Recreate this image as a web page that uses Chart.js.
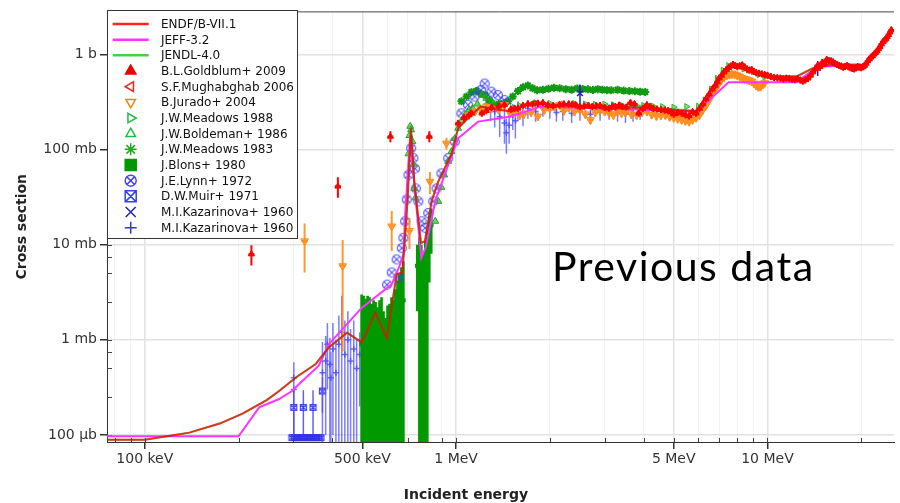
<!DOCTYPE html>
<html>
<head>
<meta charset="utf-8">
<script src="https://cdn.jsdelivr.net/npm/chart.js@4.4.0/dist/chart.umd.min.js"></script>
<style>
  body { margin: 0; background: #fff; }
  #wrap { position: relative; width: 900px; height: 503px; }
  #legendBox { position: absolute; left: 107px; top: 10px; width: 191px; height: 229px; box-sizing: border-box;
    background: #fff; border: 1px solid #333; font: 12px 'DejaVu Sans', sans-serif; color: #111; }
  #legendBox canvas { position: absolute; left: 0; top: 0; }
  .row { position: absolute; left: 53px; height: 16px; line-height: 16px; white-space: nowrap; }
  #xTitle { position: absolute; left: 366px; width: 200px; top: 487px; text-align: center;
    font: bold 14px 'DejaVu Sans', sans-serif; line-height: 14px; color: #222; }
  #note { position: absolute; left: 552px; top: 245px; font: 41px Lato, sans-serif; line-height: 41px;
    letter-spacing: 1.5px; color: #000; white-space: nowrap; }
</style>
</head>
<body>
<div id="wrap">
  <canvas id="chart" width="900" height="503"></canvas>
  <div id="legendBox"><canvas id="legendMarks" width="189" height="227"></canvas></div>
  <div id="xTitle">Incident energy</div>
  <div id="note">Previous data</div>
</div>
<script>
// energies in MeV, cross sections in mb
const endfE = [0.0756, 0.1, 0.139, 0.174, 0.206, 0.247, 0.27, 0.308, 0.354, 0.371, 0.39, 0.446, 0.498, 0.55, 0.599, 0.644, 0.672, 0.699, 0.716, 0.734, 0.771, 0.794, 0.834, 0.876, 0.966, 1.015, 1.12, 1.2, 1.36, 1.5, 1.79, 1.97, 2.84, 4.1, 5.93, 6.53, 7.23, 7.78, 8.57, 10, 12.4, 14, 15.9, 20];
const endfS = [0.089, 0.089, 0.106, 0.132, 0.168, 0.234, 0.29, 0.41, 0.556, 0.68, 0.83, 1.19, 0.94, 1.93, 1.04, 4.87, 5.07, 30.9, 167, 46, 10.4, 10.9, 28.5, 46, 89, 167, 231, 282, 261, 250, 318, 294, 282, 271, 250, 405, 656, 740, 684, 581, 581, 710, 776, 776];
const jendlS = [0.089, 0.089, 0.106, 0.132, 0.168, 0.234, 0.29, 0.41, 0.556, 0.68, 0.83, 1.19, 0.94, 1.93, 1.04, 4.87, 5.07, 30.9, 167, 46, 10.4, 10.9, 28.5, 46, 89, 167, 231, 282, 265, 255, 322, 298, 288, 276, 255, 415, 670, 750, 690, 590, 590, 720, 780, 780];
const jeffE = [0.0756, 0.2, 0.233, 0.27, 0.298, 0.313, 0.362, 0.39, 0.498, 0.621, 0.661, 0.677, 0.686, 0.712, 0.735, 0.773, 0.8, 0.857, 0.943, 1.015, 1.176, 1.5, 1.87, 2.84, 5.93, 7.5, 12.4, 14.5, 20.2];
const jeffS = [0.097, 0.097, 0.195, 0.239, 0.292, 0.344, 0.535, 0.9, 2.18, 3.83, 6.2, 7.9, 20.7, 140, 40, 7.3, 9.5, 28.5, 69, 131, 196, 222, 282, 271, 250, 509, 509, 740, 770];

const goldE = [0.22, 0.417, 0.615, 0.82, 1.015, 1.06, 1.12, 1.21, 1.3, 1.43, 1.5, 1.58, 1.7, 1.83, 1.97, 2.15, 2.3, 2.42, 2.58, 2.74, 2.9, 3.1, 3.25, 3.42, 3.63, 3.86, 4.1, 4.3, 4.55, 4.8, 5.0, 5.3, 5.6, 5.9, 6.2, 6.5, 6.8, 7.0, 7.25, 7.5, 7.75, 8.0, 8.3, 8.6, 8.9, 9.2, 9.6, 10.0, 10.5, 11.0, 11.5, 12.0, 12.5, 13.0, 13.5, 14.0, 14.5, 15.0, 15.5, 16.0, 16.5, 17.0, 17.5, 18.0, 18.5, 19.0, 19.5, 20.0, 20.5, 21.0, 21.5, 22.0, 22.5, 23.0, 23.5, 24.0, 24.5, 25.0];
const goldS = [7.95, 41, 137, 137, 188, 215, 240, 240, 275, 294, 265, 271, 300, 305, 292, 294, 300, 294, 285, 282, 290, 271, 280, 282, 309, 240, 294, 270, 262, 255, 235, 240, 225, 240, 300, 380, 470, 560, 650, 720, 780, 740, 770, 700, 690, 640, 620, 600, 570, 560, 560, 545, 555, 520, 560, 650, 760, 820, 880, 850, 800, 760, 730, 760, 720, 700, 740, 720, 760, 850, 930, 1000, 1080, 1200, 1350, 1450, 1600, 1800];
const goldErr = [1.9, 10, 18, 18, 15, 18, 20, 20, 22, 24, 22, 22, 24, 25, 24, 24, 25, 24, 23, 23, 24, 22, 23, 23, 25, 20, 24, 22, 21, 21, 20, 20, 19, 20, 25, 30, 38, 45, 52, 58, 62, 60, 62, 56, 55, 52, 50, 48, 46, 45, 45, 44, 45, 42, 45, 52, 60, 66, 70, 68, 64, 60, 58, 60, 58, 56, 60, 58, 60, 68, 75, 80, 86, 96, 108, 116, 128, 144];
const goldE2 = [1.1, 1.25, 1.37, 1.54, 1.64, 1.76, 1.9, 2.05, 2.22, 2.36, 2.5, 2.66, 2.82, 3.0, 3.18, 3.34, 3.52, 3.74, 3.98, 4.2, 4.42, 4.68, 4.9, 5.15, 5.45, 5.75, 6.05, 6.35, 6.65, 6.9, 7.12, 7.38, 7.62, 7.88, 8.15, 8.45, 8.75, 9.05, 9.4, 9.8, 10.25, 10.75, 11.25, 11.75, 12.25, 12.75, 13.25, 13.75, 14.25, 14.75, 15.25, 15.75, 16.25, 16.75, 17.25, 17.75, 18.25, 18.75, 19.25, 19.75, 20.25, 20.75, 21.25, 21.75, 22.25, 22.75, 23.25, 23.75, 24.25, 24.75];
const goldS2 = [230, 255, 285, 270, 290, 298, 310, 288, 300, 296, 280, 290, 286, 276, 285, 292, 278, 300, 270, 282, 265, 258, 248, 245, 232, 248, 270, 340, 430, 515, 600, 690, 750, 760, 755, 735, 680, 660, 630, 610, 585, 565, 550, 555, 540, 535, 540, 600, 700, 740, 800, 860, 830, 780, 750, 745, 740, 710, 720, 730, 740, 800, 890, 960, 1040, 1140, 1280, 1400, 1520, 1700];
const goldErr2 = [18, 20, 23, 22, 23, 24, 25, 23, 24, 24, 22, 23, 23, 22, 23, 23, 22, 24, 22, 23, 21, 21, 20, 20, 19, 20, 22, 27, 34, 41, 48, 55, 60, 61, 60, 59, 54, 53, 50, 49, 47, 45, 44, 44, 43, 43, 43, 48, 56, 59, 64, 69, 66, 62, 60, 60, 59, 57, 58, 58, 59, 64, 71, 77, 83, 91, 102, 112, 122, 136];

const jurE = [0.326, 0.432, 0.621, 0.708, 0.824, 0.931, 1.1, 1.2, 1.3, 1.43, 1.55, 1.65, 1.83, 2.0, 2.15, 2.3, 2.5, 2.7, 2.9, 3.1, 3.3, 3.5, 3.8, 4.1, 4.4, 4.7, 5.0, 5.3, 5.6, 5.9, 6.2, 6.5, 6.8, 7.1, 7.4, 7.7, 8.0, 8.3, 8.6, 8.9, 9.2, 9.5, 9.8];
const jurS = [10.9, 5.96, 15.6, 14, 46, 116, 230, 265, 270, 294, 250, 235, 222, 270, 294, 275, 260, 204, 260, 240, 255, 245, 230, 250, 225, 230, 215, 205, 196, 215, 260, 330, 430, 530, 600, 620, 600, 560, 540, 520, 470, 457, 500];
const jurErr = [5.8, 5.2, 7, 5, 12, 17, 23, 26, 27, 29, 25, 24, 22, 27, 29, 28, 26, 20, 26, 24, 26, 25, 23, 25, 23, 23, 22, 21, 20, 22, 26, 33, 43, 53, 60, 62, 60, 56, 54, 52, 47, 46, 50];
const jurE2 = [1.15, 1.25, 1.37, 1.49, 1.6, 1.74, 1.92, 2.07, 2.22, 2.4, 2.6, 2.8, 3.0, 3.2, 3.4, 3.65, 3.95, 4.25, 4.55, 4.85, 5.15, 5.45, 5.75, 6.05, 6.35, 6.65, 6.95, 7.25, 7.55, 7.85, 8.15, 8.45, 8.75, 9.05, 9.35, 9.65];
const jurS2 = [250, 280, 262, 240, 228, 245, 260, 280, 255, 250, 235, 245, 250, 230, 240, 235, 245, 232, 228, 220, 210, 200, 205, 230, 290, 380, 480, 570, 610, 615, 585, 550, 530, 495, 455, 480];
const jurErr2 = [25, 28, 26, 24, 23, 25, 26, 28, 26, 25, 24, 25, 25, 23, 24, 24, 25, 23, 23, 22, 21, 20, 21, 23, 29, 38, 48, 57, 61, 62, 59, 55, 53, 50, 46, 48];

const m88E = [1.6, 1.8, 2.0, 2.2, 2.4, 2.6, 2.8, 3.0, 3.2, 3.4, 3.6, 3.8, 4.0, 4.3, 4.6, 5.0, 5.5, 6.0, 6.3, 6.6, 6.9, 7.2, 7.5, 7.8, 8.1, 8.4, 8.7, 9.0, 9.4, 9.8];
const m88S = [290, 310, 305, 300, 305, 300, 298, 300, 295, 292, 290, 288, 290, 285, 282, 278, 282, 285, 330, 430, 560, 680, 760, 770, 750, 700, 680, 656, 610, 580];

const boldE = [0.703, 0.708, 0.712, 0.717, 0.724, 0.729, 0.734, 0.74, 0.857, 0.876, 0.897, 0.916, 0.943, 0.966, 0.99, 1.015, 1.04, 1.07, 1.1, 1.13, 1.17, 1.21, 1.25, 1.3];
const boldS = [90, 140, 175, 161, 121, 70, 39, 31, 17.6, 28.5, 40, 54, 75, 95, 130, 167, 200, 231, 260, 271, 300, 372, 345, 320];

const m83E = [1.04, 1.08, 1.12, 1.16, 1.2, 1.24, 1.28, 1.32, 1.37, 1.42, 1.47, 1.52, 1.58, 1.64, 1.7, 1.76, 1.82, 1.9, 1.98, 2.06, 2.15, 2.25, 2.35, 2.45, 2.55, 2.65, 2.75, 2.85, 2.95, 3.05, 3.15, 3.3, 3.45, 3.6, 3.75, 3.9, 4.05];
const m83S = [320, 360, 400, 410, 385, 372, 330, 290, 300, 305, 320, 360, 410, 450, 470, 440, 420, 425, 435, 445, 440, 430, 425, 438, 432, 428, 422, 430, 425, 420, 418, 424, 415, 412, 408, 405, 402];

const blonsE = [0.497, 0.5045, 0.512, 0.5195, 0.527, 0.535, 0.543, 0.551, 0.559, 0.5675, 0.576, 0.5845, 0.593, 0.602, 0.611, 0.62, 0.629, 0.638, 0.648, 0.657, 0.667, 0.677, 0.75, 0.762, 0.773, 0.785, 0.796, 0.808, 0.82, 0.832];
const blonsS = [0.9, 0.7, 1.0, 0.6, 0.8, 0.7, 0.5, 0.9, 0.6, 0.8, 0.5, 0.7, 0.4, 0.6, 0.9, 0.6, 1.0, 1.2, 1.5, 1.8, 2.2, 2.6, 6, 4, 2, 1.5, 3, 5, 12, 16];
const blonsErr = [2.1, 2.2, 1.7, 2.3, 2.0, 1.7, 2.1, 1.6, 1.6, 1.8, 2.3, 1.3, 1.3, 1.7, 1.5, 2.2, 1.6, 2.2, 2.7, 3.1, 3.6, 4.1, 4, 8, 8, 6.5, 8, 9, 8, 8];

const lynnE = [0.6, 0.621, 0.644, 0.653, 0.669, 0.677, 0.686, 0.694, 0.703, 0.717, 0.729, 0.738, 0.742, 0.756, 0.775, 0.795, 0.814, 0.844, 0.865, 0.897, 0.943, 0.99, 1.04, 1.092, 1.147, 1.2, 1.235, 1.297, 1.362, 1.43];
const lynnS = [3.8, 5.1, 7.0, 4.5, 9.2, 11.8, 17.6, 29.8, 54, 103, 81, 63, 39, 28.5, 17.6, 15, 21.5, 28.5, 39, 56, 81, 121, 240, 294, 359, 420, 492, 405, 372, 330];

const muirE = [0.297, 0.302, 0.307, 0.312, 0.317, 0.322, 0.327, 0.333, 0.338, 0.344, 0.35, 0.356, 0.362, 0.368, 0.301, 0.323, 0.347, 0.372];
const muirS = [0.094, 0.094, 0.094, 0.094, 0.094, 0.094, 0.094, 0.094, 0.094, 0.094, 0.094, 0.094, 0.094, 0.094, 0.195, 0.195, 0.195, 0.29];
const muirErr = [0, 0, 0, 0, 0, 0, 0, 0, 0, 0, 0, 0, 0, 0, 0.1, 0.1, 0.1, 0.12];

const kazxE = [2.5, 14.5];
const kazxS = [390, 720];
const kazxErr = [90, 130];

const kazE = [0.301, 0.301, 0.372, 0.381, 0.386, 0.393, 0.396, 0.402, 0.411, 0.42, 0.429, 0.439, 0.449, 0.458, 0.469, 0.479, 0.49, 1.25, 1.29, 1.33, 1.38, 1.43, 1.45, 1.48, 1.52, 1.55, 1.58, 1.64, 1.7, 1.8, 1.9, 2.0, 2.1, 2.2, 2.35, 2.5, 2.7, 2.9, 3.1, 3.3, 3.5, 3.7, 3.9];
const kazS = [0.4, 0.3, 0.45, 0.6, 0.9, 0.55, 0.4, 0.8, 0.45, 0.9, 1.2, 0.7, 1.0, 0.6, 0.8, 0.5, 0.7, 300, 270, 250, 220, 190, 150, 180, 230, 200, 260, 240, 270, 250, 270, 260, 245, 250, 240, 250, 235, 245, 250, 240, 235, 240, 250];
const kazErr = [0.18, 0.2, 0.5, 0.5, 0.6, 0.5, 0.35, 0.7, 0.55, 0.9, 1.7, 0.9, 1.0, 0.7, 0.8, 0.5, 0.5, 60, 70, 80, 85, 75, 60, 65, 70, 70, 60, 65, 60, 55, 50, 50, 50, 50, 50, 50, 50, 45, 45, 45, 45, 45, 45];

// axis ticks
const xTickValues = [0.08, 0.09, 0.1, 0.2, 0.3, 0.4, 0.5, 0.6, 0.7, 0.8, 0.9, 1, 2, 3, 4, 5, 6, 7, 8, 9, 10, 20];
const xTickLabels = ['', '', '100 keV', '', '', '', '500 keV', '', '', '', '', '1 MeV', '', '', '', '5 MeV', '', '', '', '', '10 MeV', ''];
const yTickValues = [0.1, 0.25, 0.5, 0.75, 1, 2.5, 5, 7.5, 10, 25, 50, 75, 100, 250, 500, 750, 1000, 2500];
const yTickLabels = ['100 µb', '', '', '', '1 mb', '', '', '', '10 mb', '', '', '', '100 mb', '', '', '', '1 b', ''];

function pts(xs, ys) {
  return xs.map((x, i) => ({ x: x, y: ys[i] }));
}

function drawMark(g, m, x, y) {
  const r = m.r || 5;
  g.save();
  g.strokeStyle = m.color;
  g.fillStyle = m.color;
  g.lineWidth = m.lw || 1.5;
  g.beginPath();
  if (m.shape === 'line') {
    g.lineWidth = 2.5;
    g.moveTo(x - 18, y);
    g.lineTo(x + 18, y);
  } else if (m.shape === 'tri') {
    for (let k = 0; k < 3; k++) {
      const a = (-90 + m.rot + k * 120) * Math.PI / 180;
      const px = x + r * Math.cos(a), py = y + r * Math.sin(a);
      if (k === 0) g.moveTo(px, py); else g.lineTo(px, py);
    }
    g.closePath();
  } else if (m.shape === 'star') {
    for (let k = 0; k < 4; k++) {
      const a = k * Math.PI / 4;
      g.moveTo(x - r * Math.cos(a), y - r * Math.sin(a));
      g.lineTo(x + r * Math.cos(a), y + r * Math.sin(a));
    }
  } else if (m.shape === 'square') {
    g.rect(x - r, y - r, 2 * r, 2 * r);
  } else if (m.shape === 'ocross') {
    g.arc(x, y, r, 0, Math.PI * 2);
    const d = r * 0.7;
    g.moveTo(x - d, y - d); g.lineTo(x + d, y + d);
    g.moveTo(x + d, y - d); g.lineTo(x - d, y + d);
  } else if (m.shape === 'sqx') {
    g.rect(x - r, y - r, 2 * r, 2 * r);
    g.moveTo(x - r, y - r); g.lineTo(x + r, y + r);
    g.moveTo(x + r, y - r); g.lineTo(x - r, y + r);
  } else if (m.shape === 'x') {
    g.moveTo(x - r, y - r); g.lineTo(x + r, y + r);
    g.moveTo(x + r, y - r); g.lineTo(x - r, y + r);
  } else if (m.shape === 'plus') {
    g.moveTo(x - r, y); g.lineTo(x + r, y);
    g.moveTo(x, y - r); g.lineTo(x, y + r);
  }
  if (m.fill) g.fill();
  g.stroke();
  g.restore();
}

function markImage(shape, color, r) {
  const c = document.createElement('canvas');
  const s = Math.ceil(2 * r + 3);
  c.width = s;
  c.height = s;
  drawMark(c.getContext('2d'), { shape: shape, color: color, r: r, lw: 1.2 }, s / 2, s / 2);
  return c;
}

const lynnMark = markImage('ocross', 'rgba(60,60,255,0.85)', 4.5);
const muirMark = markImage('sqx', 'rgba(50,50,230,0.9)', 3);

const datasets = [
  { label: 'ENDF/B-VII.1', data: pts(endfE, endfS), showLine: true, pointRadius: 0, borderWidth: 2,
    borderColor: 'rgba(255,0,0,0.72)', order: 2, legendMark: { shape: 'line', color: '#ff2020' } },
  { label: 'JEFF-3.2', data: pts(jeffE, jeffS), showLine: true, pointRadius: 0, borderWidth: 2,
    borderColor: '#ff33ff', order: 4, legendMark: { shape: 'line', color: '#ff33ff' } },
  { label: 'JENDL-4.0', data: pts(endfE, jendlS), showLine: true, pointRadius: 0, borderWidth: 2,
    borderColor: 'rgba(0,160,0,0.55)', order: 3, legendMark: { shape: 'line', color: '#4ccc4c' } },
  { label: 'B.L.Goldblum+ 2009', data: pts(goldE, goldS).concat(pts(goldE2, goldS2)),
    errors: goldErr.concat(goldErr2), errorColor: '#ff0000', errorWidth: 2, errorCap: 3,
    pointStyle: 'triangle', pointRadius: 3.5, backgroundColor: '#ff0000', borderColor: '#ff0000', order: 1,
    legendMark: { shape: 'tri', rot: 0, fill: true, color: '#ee0000', r: 6 } },
  { label: 'S.F.Mughabghab 2006', data: [], pointStyle: 'triangle', rotation: -90, borderColor: '#ee2222', order: 1,
    legendMark: { shape: 'tri', rot: -90, color: '#ee2222', r: 5.5 } },
  { label: 'B.Jurado+ 2004', data: pts(jurE, jurS).concat(pts(jurE2, jurS2)),
    errors: jurErr.concat(jurErr2), errorColor: 'rgba(255,140,30,0.9)', errorWidth: 2, errorCap: 3,
    pointStyle: 'triangle', rotation: 180, pointRadius: 4.5, backgroundColor: 'rgba(255,140,26,0.6)',
    borderColor: '#ff8c1a', order: 6, legendMark: { shape: 'tri', rot: 180, color: '#ff8000', r: 5.5 } },
  { label: 'J.W.Meadows 1988', data: pts(m88E, m88S), pointStyle: 'triangle', rotation: 90, pointRadius: 3.5,
    backgroundColor: 'rgba(40,180,40,0.5)', borderColor: '#2eb82e', order: 7,
    legendMark: { shape: 'tri', rot: 90, color: '#22bb44', r: 5.5 } },
  { label: 'J.W.Boldeman+ 1986', data: pts(boldE, boldS), pointStyle: 'triangle', pointRadius: 4,
    backgroundColor: 'rgba(30,170,30,0.6)', borderColor: '#1faa1f', order: 8,
    legendMark: { shape: 'tri', rot: 0, color: '#22bb44', r: 5.5 } },
  { label: 'J.W.Meadows 1983', data: pts(m83E, m83S), pointStyle: 'star', pointRadius: 4, borderWidth: 2,
    borderColor: '#129912', order: 10, legendMark: { shape: 'star', color: '#22aa22', r: 6 } },
  { label: 'J.Blons+ 1980', data: pts(blonsE, blonsS), errors: blonsErr, errorColor: '#009900', errorWidth: 2.6,
    pointStyle: 'rect', pointRadius: 2.5, backgroundColor: '#009900', borderColor: '#009900', order: 11,
    legendMark: { shape: 'square', fill: true, color: '#009900', r: 5.5 } },
  { label: 'J.E.Lynn+ 1972', data: pts(lynnE, lynnS), pointStyle: lynnMark, pointRadius: 4, order: 9,
    legendMark: { shape: 'ocross', color: '#4444ff', r: 5.5 } },
  { label: 'D.W.Muir+ 1971', data: pts(muirE, muirS), errors: muirErr, errorColor: 'rgba(60,60,235,0.8)',
    pointStyle: muirMark, pointRadius: 3, order: 13, legendMark: { shape: 'sqx', color: '#3344ee', r: 5.5 } },
  { label: 'M.I.Kazarinova+ 1960', data: pts(kazxE, kazxS), errors: kazxErr, errorColor: '#2020b0',
    pointStyle: 'crossRot', pointRadius: 4, borderWidth: 1.5, borderColor: '#2020b0', order: 5,
    legendMark: { shape: 'x', color: '#2222bb', r: 5 } },
  { label: 'M.I.Kazarinova+ 1960', data: pts(kazE, kazS), errors: kazErr, errorColor: 'rgba(80,80,255,0.75)',
    pointStyle: 'cross', pointRadius: 3, borderWidth: 1.5, borderColor: 'rgba(70,70,255,0.8)', order: 12,
    legendMark: { shape: 'plus', color: '#3333ee', r: 6 } }
];

// vertical error bars, drawn just under each dataset's markers
const errorBars = {
  id: 'errorBars',
  beforeDatasetDraw(chart, args) {
    const ds = chart.data.datasets[args.index];
    if (!ds.errors) return;
    const { ctx, chartArea: a, scales: { x, y } } = chart;
    ctx.save();
    ctx.beginPath();
    ctx.rect(a.left, a.top, a.right - a.left, a.bottom - a.top);
    ctx.clip();
    ctx.strokeStyle = ds.errorColor;
    ctx.lineWidth = ds.errorWidth || 1.5;
    ctx.beginPath();
    ds.data.forEach((p, i) => {
      const e = ds.errors[i];
      const px = x.getPixelForValue(p.x);
      const py = y.getPixelForValue(p.y);
      if (ds.errorCap) {
        ctx.moveTo(px - ds.errorCap, py);
        ctx.lineTo(px + ds.errorCap, py);
      }
      if (!e) return;
      const lo = p.y - e;
      ctx.moveTo(px, y.getPixelForValue(p.y + e));
      ctx.lineTo(px, lo > 0 ? y.getPixelForValue(lo) : a.bottom);
    });
    ctx.stroke();
    ctx.restore();
  }
};

// inward tick marks and the top frame line
const innerTicks = {
  id: 'innerTicks',
  beforeDatasetsDraw(chart) {
    const { ctx, chartArea: a, scales: { x, y } } = chart;
    ctx.save();
    ctx.strokeStyle = '#444';
    ctx.lineWidth = 1;
    ctx.beginPath();
    xTickValues.forEach(v => {
      const px = Math.round(x.getPixelForValue(v)) + 0.5;
      ctx.moveTo(px, a.bottom);
      ctx.lineTo(px, a.bottom - 4);
    });
    yTickValues.forEach(v => {
      const py = Math.round(y.getPixelForValue(v)) + 0.5;
      ctx.moveTo(a.left, py);
      ctx.lineTo(a.left + 5, py);
    });
    ctx.moveTo(a.left, a.top + 0.5);
    ctx.lineTo(a.right, a.top + 0.5);
    ctx.stroke();
    ctx.restore();
  }
};

Chart.defaults.font.family = "'DejaVu Sans', sans-serif";

new Chart(document.getElementById('chart'), {
  type: 'scatter',
  data: { datasets: datasets },
  options: {
    responsive: false,
    animation: false,
    events: [],
    layout: { padding: { top: 10, right: 2, left: 0, bottom: 0 } },
    plugins: { legend: { display: false }, tooltip: { enabled: false } },
    scales: {
      x: {
        type: 'logarithmic',
        min: 0.0756,
        max: 25.5,
        afterBuildTicks: s => { s.ticks = xTickValues.map(v => ({ value: v })); },
        afterFit: s => { s.height = 61; },
        ticks: {
          autoSkip: false, maxRotation: 0, minRotation: 0, padding: 2, color: '#333',
          font: { size: 14 },
          callback: (v, i) => xTickLabels[i]
        },
        grid: {
          color: c => xTickLabels[c.index] ? '#e2e2e2' : '#f3f3f3',
          lineWidth: c => xTickLabels[c.index] ? 1.5 : 1,
          tickColor: c => xTickLabels[c.index] ? '#333' : 'rgba(0,0,0,0)',
          tickLength: 7
        },
        border: { color: '#333', width: 1 }
      },
      y: {
        type: 'logarithmic',
        min: 0.0845,
        max: 2820,
        afterBuildTicks: s => { s.ticks = yTickValues.map(v => ({ value: v })); },
        afterFit: s => { s.width = 107; },
        ticks: {
          autoSkip: false, padding: 3, color: '#333',
          font: { size: 14 },
          callback: (v, i) => yTickLabels[i]
        },
        grid: {
          color: c => yTickLabels[c.index] ? '#e2e2e2' : 'rgba(0,0,0,0)',
          lineWidth: 1.5,
          tickColor: c => yTickLabels[c.index] ? '#333' : 'rgba(0,0,0,0)',
          tickLength: 7
        },
        border: { color: '#333', width: 1 },
        title: {
          display: true, text: 'Cross section', color: '#222',
          font: { size: 14, weight: 'bold' }, padding: { top: 14, bottom: 0 }
        }
      }
    }
  },
  plugins: [errorBars, innerTicks]
});

// legend box drawn over the plot, as in the original
const legendBox = document.getElementById('legendBox');
const lg = document.getElementById('legendMarks').getContext('2d');
datasets.forEach((ds, i) => {
  const cy = 13 + 15.67 * i;
  drawMark(lg, ds.legendMark, 22.7, cy);
  const row = document.createElement('div');
  row.className = 'row';
  row.style.top = (cy - 8) + 'px';
  row.textContent = ds.label;
  legendBox.appendChild(row);
});
</script>
</body>
</html>
